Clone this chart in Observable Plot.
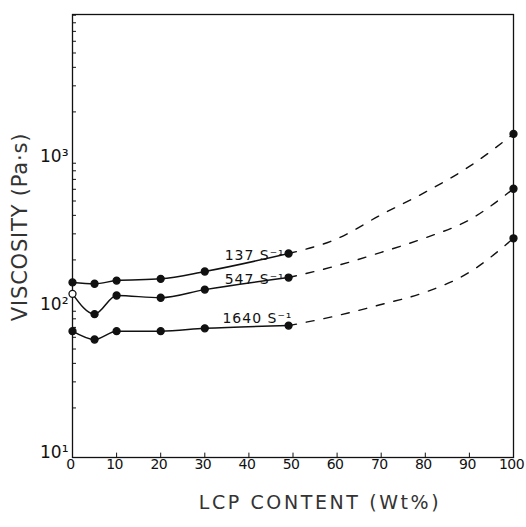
<!DOCTYPE html>
<html>
<head>
<meta charset="utf-8">
<script src="https://cdn.jsdelivr.net/npm/d3@7"></script>
<script src="https://cdn.jsdelivr.net/npm/@observablehq/plot@0.6"></script>
<style>
  html, body { margin: 0; padding: 0; background: #fff; }
  #chart svg { display: block; }
  .xlabel text { letter-spacing: 2.6px; }
  .ylabel text { letter-spacing: 0.8px; }
  .slabel text { letter-spacing: 1px; }
  .xticks text { letter-spacing: -0.6px; }
</style>
</head>
<body>
<div id="chart"></div>
<script>
// Measured points (LCP wt%, viscosity Pa·s)
const lcp = [0, 5, 10, 20, 30, 49];
const visc137 = [141, 138, 145, 149, 167, 221];
const visc547 = [118, 86, 115, 111, 126, 152];
const visc1640 = [66, 58, 66, 66, 69, 72];
// Pure LCP (100 wt%)
const lcpPure = 100;
const pure137 = 1420, pure547 = 605, pure1640 = 280;
// Dashed extrapolation curves
const lcpDash = [49, 60, 70, 80, 90, 100];
const dash137 = [221, 278, 404, 574, 856, 1420];
const dash547 = [152, 183, 225, 282, 373, 605];
const dash1640 = [72, 84, 100, 121, 165, 280];
// Series labels
const seriesNames = ["137 S⁻¹", "547 S⁻¹", "1640 S⁻¹"];
const labelX = [34.5, 34.5, 34];
const labelY = [214, 147, 80];
// Ticks
const xTicks = [0, 10, 20, 30, 40, 50, 60, 70, 80, 90, 100];
const yTicks = [10, 100, 1000];
const yTickLabels = ["10¹", "10²", "10³"];
const yMinor = [20, 30, 40, 50, 60, 70, 80, 90, 200, 300, 400, 500, 600, 700, 800, 900, 2000, 3000, 4000, 5000, 6000, 7000, 8000, 9000];

const solid = [];
[visc137, visc547, visc1640].forEach((arr, s) => arr.forEach((v, i) => solid.push({s, x: lcp[i], y: v})));
const dashed = [];
[dash137, dash547, dash1640].forEach((arr, s) => arr.forEach((v, i) => dashed.push({s, x: lcpDash[i], y: v})));
const dots = [];
solid.forEach(d => dots.push({...d, open: d.s === 1 && d.x === 0}));
[pure137, pure547, pure1640].forEach((v, s) => dots.push({s, x: lcpPure, y: v, open: false}));
const labels = seriesNames.map((t, i) => ({t, x: labelX[i], y: labelY[i]}));

const font = "DejaVu Sans, Noto Sans, sans-serif";
const yMin = 9.25, yMax = 9100;

const chart = Plot.plot({
  width: 526,
  height: 527,
  marginLeft: 72,
  marginRight: 13,
  marginTop: 14,
  marginBottom: 70,
  style: {fontFamily: font, color: "#111", background: "#fff"},
  x: {domain: [0, 100]},
  y: {type: "log", domain: [yMin, yMax]},
  marks: [
    Plot.frame({stroke: "#111", strokeWidth: 1.3}),
    Plot.axisX({ticks: xTicks, tickSize: 0, tickPadding: 2, dx: -2, fontSize: 14, label: null, tickFormat: d => String(d), className: "xticks"}),
    Plot.ruleX(xTicks, {x: d => d, y1: yMin, y2: 9.9, stroke: "#111", strokeWidth: 1}),
    Plot.ruleY(yMinor, {y: d => d, x1: 0, x2: 0.9, stroke: "#111", strokeWidth: 1}),
    Plot.axisY({ticks: yTicks, tickSize: 0, tickPadding: 4, fontSize: 17, label: null, tickFormat: d => yTickLabels[yTicks.indexOf(d)]}),
    Plot.line(solid, {x: "x", y: "y", z: "s", curve: "monotone-x", stroke: "#111", strokeWidth: 1.5}),
    Plot.line(dashed, {x: "x", y: "y", z: "s", curve: "monotone-x", stroke: "#111", strokeWidth: 1.4, strokeDasharray: "8,10"}),
    Plot.dot(dots, {x: "x", y: "y", r: 3.5, fill: d => d.open ? "#fff" : "#111", stroke: "#111", strokeWidth: 1.3}),
    Plot.text(labels, {x: "x", y: "y", text: "t", textAnchor: "start", fontSize: 14, fill: "#111", fontFamily: font, className: "slabel"}),
    Plot.text(["VISCOSITY (Pa·s)"], {frameAnchor: "left", textAnchor: "middle", lineAnchor: "middle", rotate: -90, dx: -52, dy: -9, fontSize: 21, fill: "#333", fontFamily: font, className: "ylabel"}),
    Plot.text(["LCP CONTENT (Wt%)"], {frameAnchor: "bottom", textAnchor: "middle", lineAnchor: "middle", dx: 27, dy: 45, fontSize: 19, fill: "#333", fontFamily: font, className: "xlabel"})
  ]
});
document.getElementById("chart").appendChild(chart);
</script>
</body>
</html>
